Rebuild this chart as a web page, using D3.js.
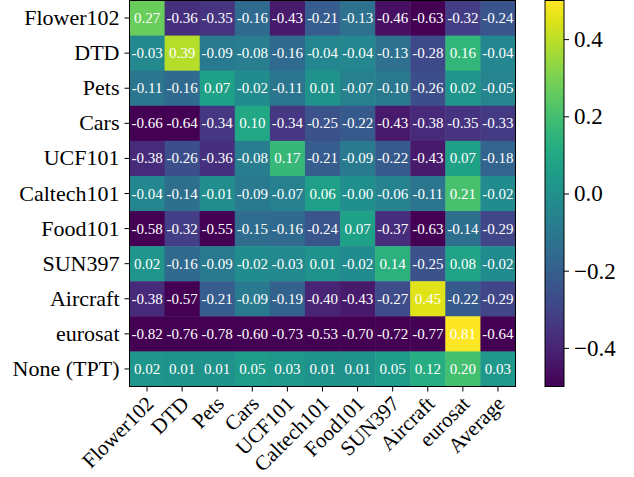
<!DOCTYPE html>
<html>
<head>
<meta charset="utf-8">
<script src="https://cdn.jsdelivr.net/npm/d3@7"></script>
<style>
  body { margin: 0; background: #fff; }
  svg { display: block; font-family: "Liberation Serif", "Times New Roman", serif; }
</style>
</head>
<body>
<svg id="chart" width="634" height="477"></svg>
<script>
const rows = ["Flower102", "DTD", "Pets", "Cars", "UCF101", "Caltech101", "Food101", "SUN397", "Aircraft", "eurosat", "None (TPT)"];
const cols = ["Flower102", "DTD", "Pets", "Cars", "UCF101", "Caltech101", "Food101", "SUN397", "Aircraft", "eurosat", "Average"];

const flower102 = [0.27, -0.36, -0.35, -0.16, -0.43, -0.21, -0.13, -0.46, -0.63, -0.32, -0.24];
const dtd = [-0.03, 0.39, -0.09, -0.08, -0.16, -0.04, -0.04, -0.13, -0.28, 0.16, -0.04];
const pets = [-0.11, -0.16, 0.07, -0.02, -0.11, 0.01, -0.07, -0.10, -0.26, 0.02, -0.05];
const cars = [-0.66, -0.64, -0.34, 0.10, -0.34, -0.25, -0.22, -0.43, -0.38, -0.35, -0.33];
const ucf101 = [-0.38, -0.26, -0.36, -0.08, 0.17, -0.21, -0.09, -0.22, -0.43, 0.07, -0.18];
const caltech101 = [-0.04, -0.14, -0.01, -0.09, -0.07, 0.06, -0.004, -0.06, -0.11, 0.21, -0.02];
const food101 = [-0.58, -0.32, -0.55, -0.15, -0.16, -0.24, 0.07, -0.37, -0.63, -0.14, -0.29];
const sun397 = [0.02, -0.16, -0.09, -0.02, -0.03, 0.01, -0.02, 0.14, -0.25, 0.08, -0.02];
const aircraft = [-0.38, -0.57, -0.21, -0.09, -0.19, -0.40, -0.43, -0.27, 0.45, -0.22, -0.29];
const eurosat = [-0.82, -0.76, -0.78, -0.60, -0.73, -0.53, -0.70, -0.72, -0.77, 0.81, -0.64];
const noneTpt = [0.02, 0.01, 0.01, 0.05, 0.03, 0.01, 0.01, 0.05, 0.12, 0.20, 0.03];

const matrix = [flower102, dtd, pets, cars, ucf101, caltech101, food101, sun397, aircraft, eurosat, noneTpt];
const cbTicks = [0.4, 0.2, 0.0, -0.2, -0.4];

const svg = d3.select("#chart");
const plotLeft = 129.5, plotTop = 0.5, side = 386;

const x = d3.scaleBand().domain(cols).range([plotLeft, plotLeft + side]);
const y = d3.scaleBand().domain(rows).range([plotTop, plotTop + side]);
const color = d3.scaleSequential(d3.interpolateViridis).domain([-0.5, 0.5]).clamp(true);

const cells = [];
matrix.forEach((vals, i) => vals.forEach((v, j) => cells.push({ r: rows[i], c: cols[j], v })));

svg.append("g")
  .selectAll("rect")
  .data(cells)
  .join("rect")
  .attr("x", d => x(d.c))
  .attr("y", d => y(d.r))
  .attr("width", x.bandwidth() + 0.5)
  .attr("height", y.bandwidth() + 0.5)
  .attr("fill", d => color(d.v));

// cell labels (matplotlib style "%.2f", keeps -0.00)
const fmt = v => (v < 0 ? "-" : "") + Math.abs(v).toFixed(2);
svg.append("g")
  .selectAll("text")
  .data(cells)
  .join("text")
  .attr("x", d => x(d.c) + x.bandwidth() / 2)
  .attr("y", d => y(d.r) + y.bandwidth() / 2)
  .attr("text-anchor", "middle")
  .attr("dominant-baseline", "central")
  .attr("fill", "#fff")
  .attr("font-size", 15)
  .text(d => fmt(d.v));

svg.append("rect")
  .attr("x", plotLeft).attr("y", plotTop)
  .attr("width", side).attr("height", side)
  .attr("fill", "none").attr("stroke", "#000").attr("stroke-width", 1);

// y axis
const yAxis = svg.append("g")
  .attr("transform", `translate(${plotLeft},0)`)
  .call(d3.axisLeft(y).tickSize(5).tickPadding(5));
yAxis.select(".domain").remove();
yAxis.selectAll("text").attr("font-size", 22).attr("font-family", "Liberation Serif").attr("fill", "#000");
yAxis.selectAll("line").attr("stroke", "#000");

// x axis
const xAxis = svg.append("g")
  .attr("transform", `translate(0,${plotTop + side})`)
  .call(d3.axisBottom(x).tickSize(5));
xAxis.select(".domain").remove();
xAxis.selectAll("line").attr("stroke", "#000");
xAxis.selectAll("text")
  .attr("font-size", 21)
  .attr("font-family", "Liberation Serif")
  .attr("fill", "#000")
  .attr("text-anchor", "end")
  .attr("dy", null)
  .attr("y", 0)
  .attr("transform", "translate(8,18.5) rotate(-45)");

// colorbar
const cbX = 545, cbW = 19;
const cb = d3.scaleLinear().domain([-0.5, 0.5]).range([plotTop + side, plotTop]);
const defs = svg.append("defs");
const grad = defs.append("linearGradient").attr("id", "cbgrad")
  .attr("x1", 0).attr("y1", 1).attr("x2", 0).attr("y2", 0);
d3.range(0, 1.0001, 0.05).forEach(t => {
  grad.append("stop").attr("offset", t).attr("stop-color", d3.interpolateViridis(t));
});
svg.append("rect")
  .attr("x", cbX).attr("y", plotTop)
  .attr("width", cbW).attr("height", side)
  .attr("fill", "url(#cbgrad)")
  .attr("stroke", "#000").attr("stroke-width", 1);

const cbAxis = svg.append("g")
  .attr("transform", `translate(${cbX + cbW},0)`)
  .call(d3.axisRight(cb).tickValues(cbTicks).tickSize(5).tickPadding(5)
    .tickFormat(v => (v < 0 ? "\u2212" : "") + Math.abs(v).toFixed(1)));
cbAxis.select(".domain").remove();
cbAxis.selectAll("line").attr("stroke", "#000");
cbAxis.selectAll("text").attr("font-size", 23).attr("font-family", "Liberation Serif").attr("fill", "#000");
</script>
</body>
</html>
